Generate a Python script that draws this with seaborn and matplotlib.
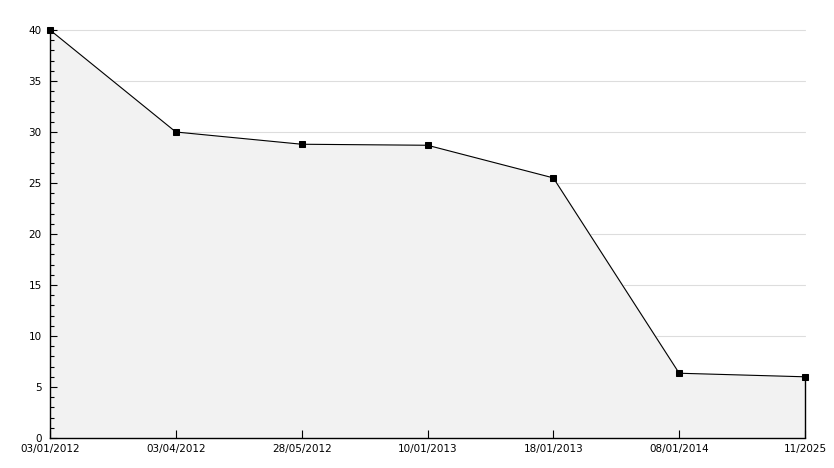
import numpy as np
import pandas as pd
import matplotlib
matplotlib.use("Agg")
import matplotlib.pyplot as plt
import seaborn as sns
from matplotlib.ticker import MultipleLocator

dates = ["03/01/2012", "03/04/2012", "28/05/2012", "10/01/2013",
         "18/01/2013", "08/01/2014", "11/2025"]
values = [40, 30, 28.8, 28.7, 25.5, 6.35, 6.0]

df = pd.DataFrame({"pos": np.arange(len(dates)), "value": values})

sns.set_style("white")
plt.rcParams['font.family'] = ['DejaVu Sans']

fig = plt.figure(figsize=(8.34, 4.68), dpi=100)
ax = fig.add_axes([50 / 834, 30 / 468, 755 / 834, 408 / 468])
ax.set_axisbelow(False)

# gridlines under the fill
for y in range(5, 41, 5):
    ax.axhline(y, color="#dddddd", linewidth=0.8, zorder=0.5, clip_on=False)

ax.fill_between(df["pos"], df["value"], 0, color="#f2f2f2", zorder=1)
sns.lineplot(data=df, x="pos", y="value", ax=ax, color="black", linewidth=0.8,
             marker="s", markersize=4, markeredgecolor="black", zorder=3, clip_on=False)
ax.vlines(df["pos"].iloc[-1], 0, df["value"].iloc[-1], color="black",
          linewidth=1.0, zorder=3, clip_on=False)

ax.set_xlim(0, len(dates) - 1)
ax.set_ylim(0, 40)
ax.yaxis.set_major_locator(MultipleLocator(5))
ax.yaxis.set_minor_locator(MultipleLocator(1))
ax.set_xticks(df["pos"])
ax.set_xticklabels(dates)
ax.grid(False)

for s in ["top", "right"]:
    ax.spines[s].set_visible(False)
for s in ["left", "bottom"]:
    ax.spines[s].set_color("black")
    ax.spines[s].set_linewidth(1.0)

ax.tick_params(axis="y", which="major", direction="in", length=5, width=0.8,
               labelsize=7.5, pad=6, left=True, color="black", labelcolor="black")
ax.tick_params(axis="y", which="minor", direction="in", length=3, width=0.8,
               left=True, color="black")
ax.tick_params(axis="x", which="major", direction="in", length=6, width=0.8,
               labelsize=7.5, pad=4, bottom=True, color="black", labelcolor="black")
ax.set_xlabel("")
ax.set_ylabel("")

fig.savefig("out.png", dpi=100)
